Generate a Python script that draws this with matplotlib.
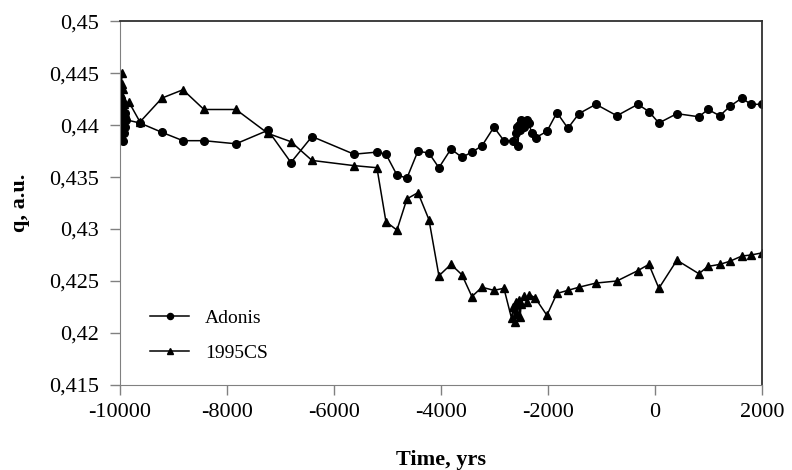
import numpy as np
import matplotlib
matplotlib.use("Agg")
import matplotlib.pyplot as plt
from matplotlib.ticker import FuncFormatter, MultipleLocator

# Adonis (circles)
adonis_t = [-9990, -9985, -9975, -9970, -9960, -9950, -9945, -9935, -9920, -9910, -9900, -9880,
            -9626, -9215, -8823, -8430, -7832, -7234, -6804, -6411, -5626, -5197, -5028,
            -4823, -4636, -4430, -4224, -4038, -3813, -3608, -3421, -3234, -3010, -2823,
            -2655, -2600, -2580, -2560, -2540, -2520, -2500, -2470, -2440, -2400, -2360, -2300,
            -2225, -2019, -1832, -1627, -1421, -1103, -711, -318, -113, 74, 411, 822, 990,
            1214, 1401, 1625, 1793, 2000]
adonis_q = [0.4395, 0.4415, 0.4388, 0.4420, 0.4400, 0.4410, 0.4385, 0.4405, 0.4392, 0.4412, 0.4398, 0.4405,
            0.4402, 0.4393, 0.4385, 0.4385, 0.4382, 0.4395, 0.4364, 0.4389, 0.4372, 0.4374, 0.4372,
            0.4352, 0.4349, 0.4375, 0.4373, 0.4359, 0.4377, 0.4369, 0.4374, 0.4380, 0.4398, 0.4385,
            0.4385, 0.4392, 0.4398, 0.4380, 0.4400, 0.4395, 0.4405, 0.4402, 0.4398, 0.4405, 0.4402, 0.4392,
            0.4388, 0.4394, 0.4412, 0.4397, 0.4411, 0.4420, 0.4409, 0.4420, 0.4413, 0.4402, 0.4411, 0.4408, 0.4415,
            0.4409, 0.4418, 0.4426, 0.4420, 0.4420]

# 1995CS (triangles)
cs_t = [-9963, -9975, -9955, -9970, -9950, -9965, -9945, -9930, -9910,
        -9832, -9626, -9215, -8823, -8430, -7832, -7234, -6804, -6411, -5626, -5197, -5028,
        -4823, -4636, -4430, -4224, -4038, -3813, -3608, -3421, -3234, -3010, -2823,
        -2680, -2650, -2620, -2600, -2570, -2550, -2520, -2500, -2450, -2400, -2350,
        -2243, -2019, -1832, -1627, -1421, -1103, -711, -318, -113, 74, 411, 822, 990,
        1214, 1401, 1625, 1793, 2000]
cs_q = [0.4450, 0.4430, 0.4440, 0.4415, 0.4425, 0.4408, 0.4435, 0.4420, 0.4412,
        0.4422, 0.4403, 0.4426, 0.4434, 0.4415, 0.4415, 0.4392, 0.4384, 0.4366, 0.4361, 0.4359, 0.4307,
        0.4299, 0.4329, 0.4335, 0.4309, 0.4255, 0.4266, 0.4256, 0.4235, 0.4244, 0.4241, 0.4243,
        0.4214, 0.4225, 0.4211, 0.4230, 0.4218, 0.4232, 0.4215, 0.4228, 0.4236, 0.4230, 0.4237,
        0.4234, 0.4217, 0.4238, 0.4241, 0.4244, 0.4248, 0.4250, 0.4260, 0.4266, 0.4243, 0.4270, 0.4257, 0.4264,
        0.4266, 0.4269, 0.4274, 0.4275, 0.4277]

plt.rcParams['font.family'] = 'Liberation Serif'
plt.rcParams['axes.unicode_minus'] = False

fig = plt.figure(figsize=(7.92, 4.70), dpi=100)
ax = fig.add_axes([0.1515, 0.181, 0.8105, 0.774])

ax.plot(adonis_t, adonis_q, '-o', color='black', lw=1.1, ms=5.5, label='Adonis')
ax.plot(cs_t, cs_q, '-^', color='black', lw=1.1, ms=6, label='1995CS')

ax.set_xlim(-10000, 2000)
ax.set_ylim(0.415, 0.45)
ax.xaxis.set_major_locator(MultipleLocator(2000))
ax.yaxis.set_major_locator(MultipleLocator(0.005))
ax.yaxis.set_major_formatter(FuncFormatter(lambda v, p: f"{v:.3f}".rstrip('0').replace('.', ',')))
ax.tick_params(direction='out', length=7, width=1, color='#808080', labelsize=16)
ax.tick_params(axis='y', pad=8)
ax.tick_params(axis='x', pad=6)

for side in ['left', 'bottom']:
    ax.spines[side].set_color('#808080')
for side in ['top', 'right']:
    ax.spines[side].set_color('#303030')
    ax.spines[side].set_linewidth(1.3)

ax.set_xlabel('Time, yrs', fontsize=16, fontweight='bold', labelpad=20)
ax.set_ylabel('q, a.u.', fontsize=16, fontweight='bold', labelpad=14)

ax.legend(loc='lower left', bbox_to_anchor=(0.02, 0.015), frameon=False, fontsize=14,
          handlelength=2.0, markerscale=0.8, labelspacing=0.9)

fig.savefig('out.png', dpi=100)
